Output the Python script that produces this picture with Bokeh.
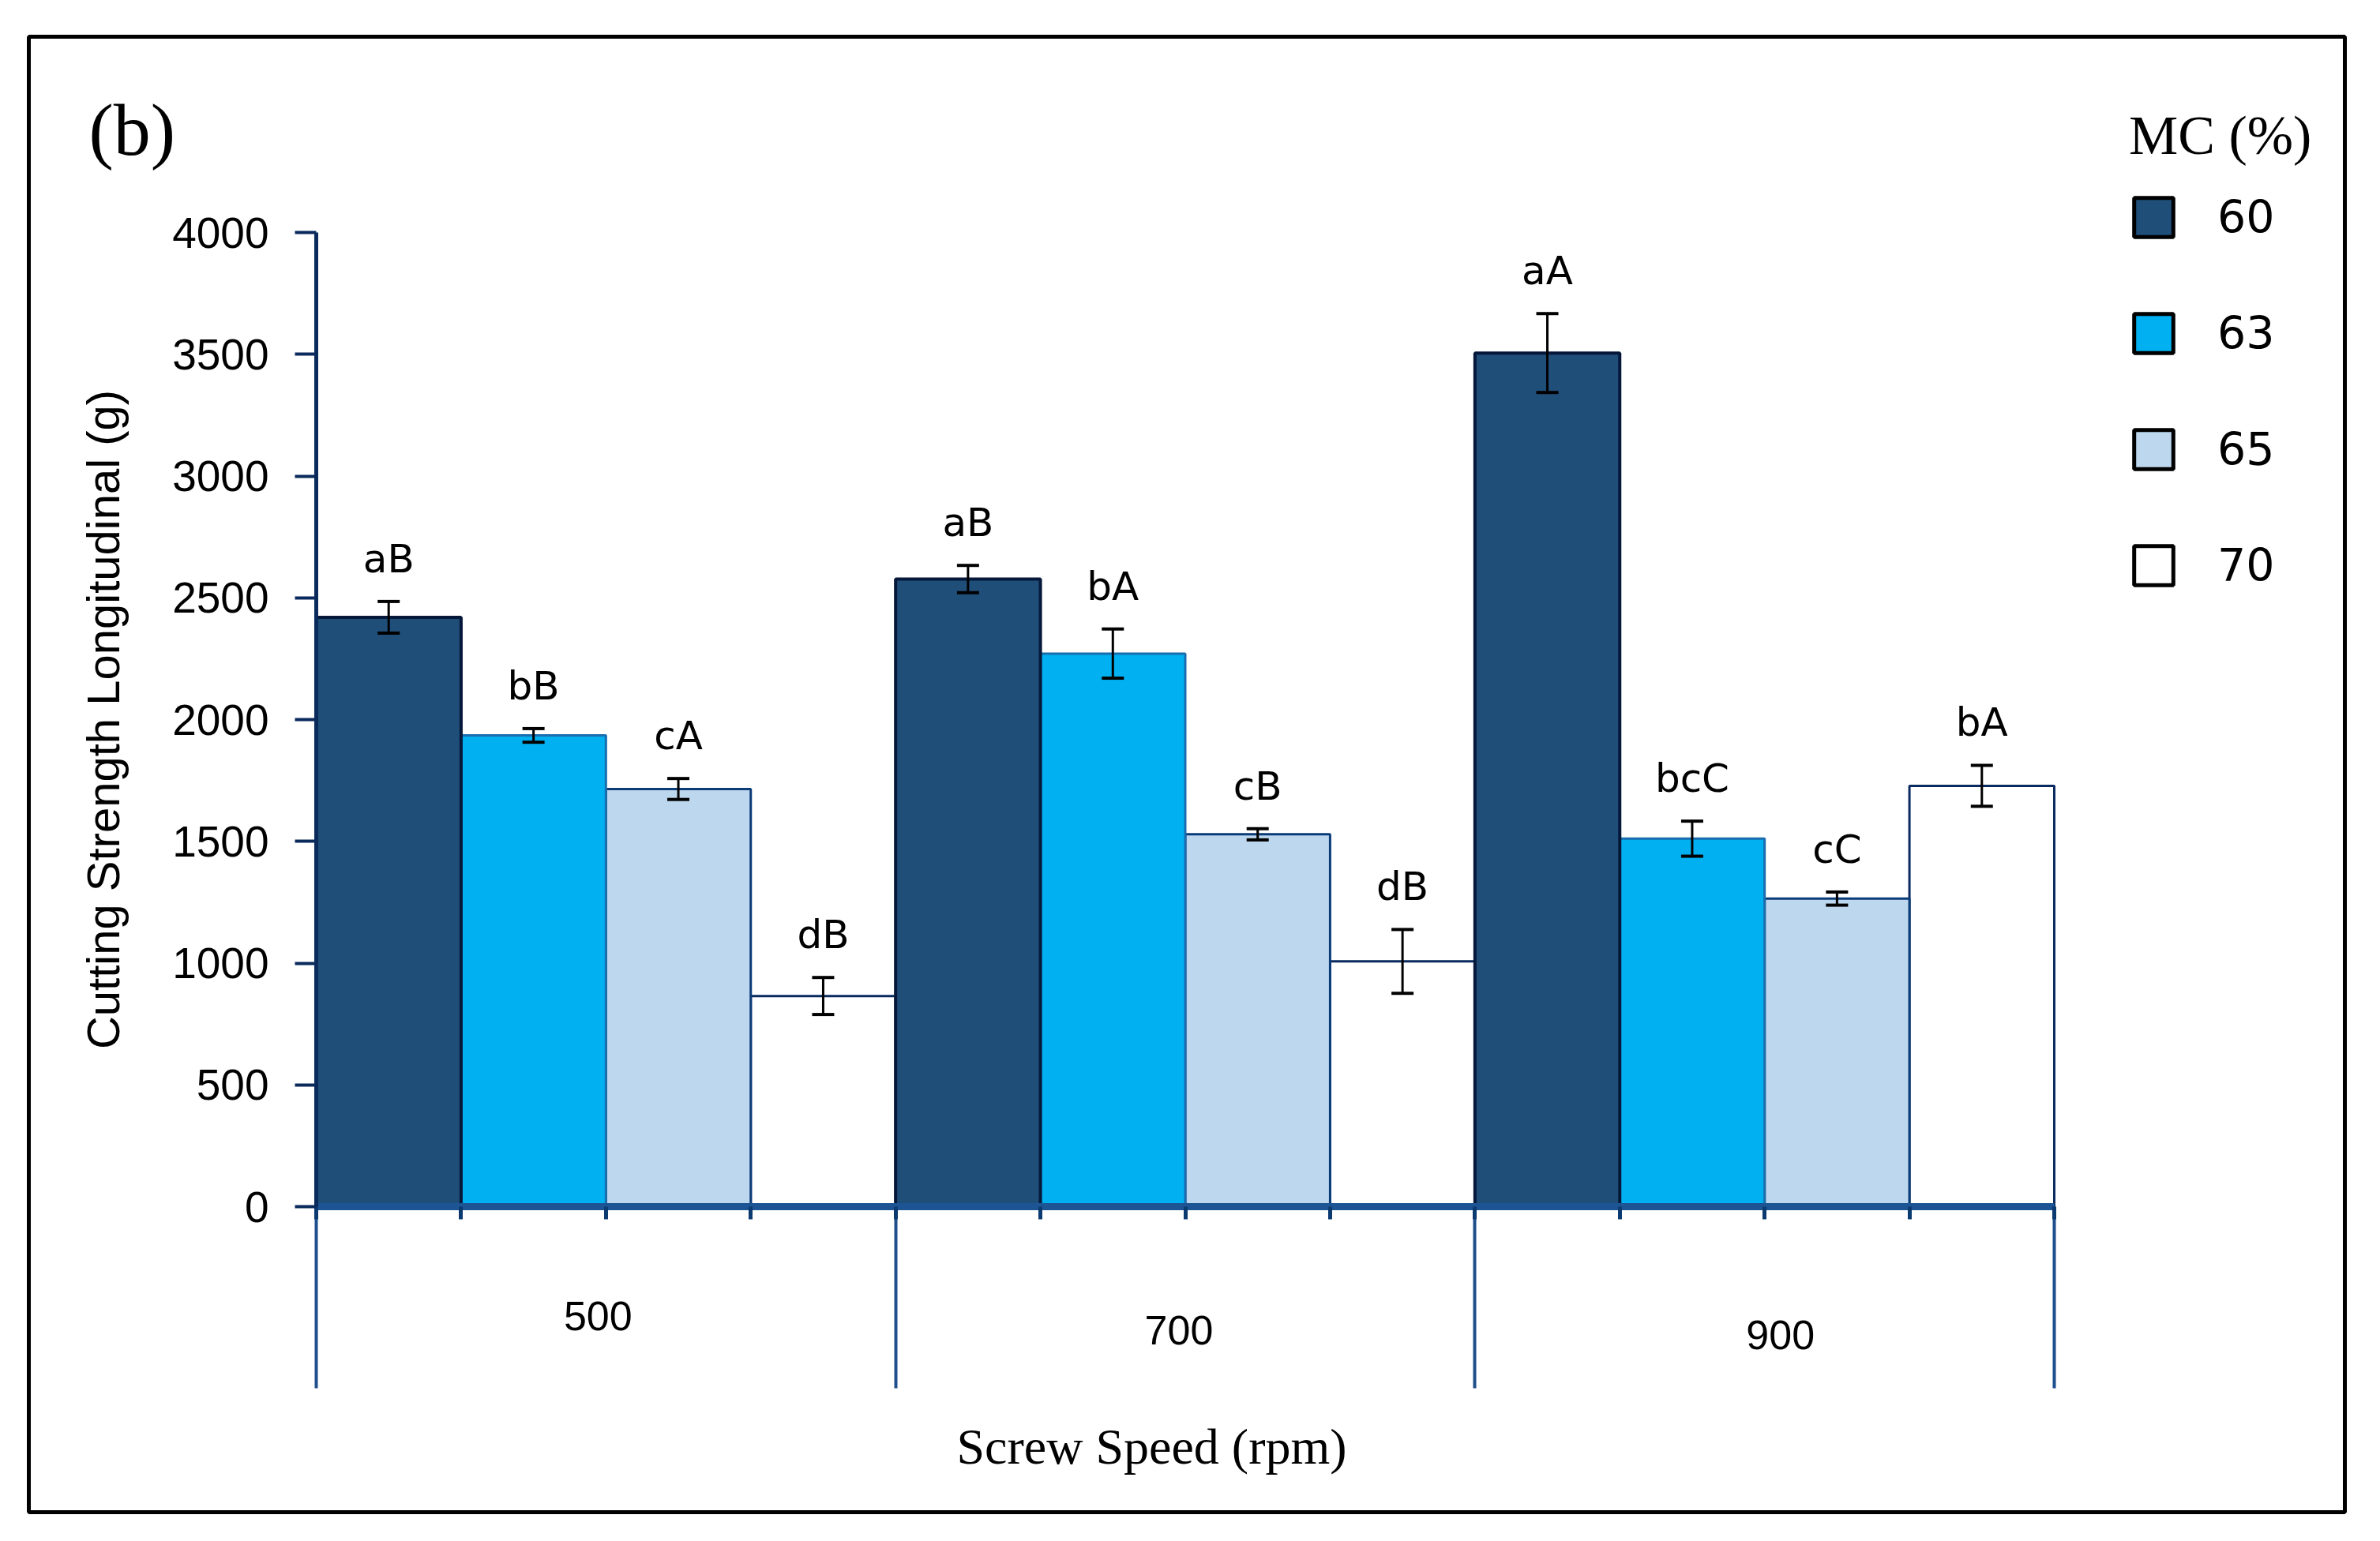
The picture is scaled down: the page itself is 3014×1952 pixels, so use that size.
import numpy as np
from bokeh.plotting import figure
from bokeh.models import (ColumnDataSource, Range1d, FixedTicker, Whisker, TeeHead,
                          Label, Legend, LegendItem, BoxAnnotation)
from bokeh.core.properties import value
from bokeh.embed import file_html
from bokeh.resources import INLINE

# ---------------- data ----------------
speeds = ["500", "700", "900"]
mc_levels = ["60", "63", "65", "70"]

v60 = [2420, 2577, 3505]
v63 = [1935, 2271, 1511]
v65 = [1715, 1529, 1265]
v70 = [865, 1007, 1728]

e60 = [65, 56, 162]
e63 = [28, 101, 72]
e65 = [43, 23, 27]
e70 = [76, 131, 84]

l60 = ["aB", "aB", "aA"]
l63 = ["bB", "bA", "bcC"]
l65 = ["cA", "cB", "cC"]
l70 = ["dB", "dB", "bA"]

yticks = [0, 500, 1000, 1500, 2000, 2500, 3000, 3500, 4000]

series_vals = [v60, v63, v65, v70]
series_errs = [e60, e63, e65, e70]
series_lets = [l60, l63, l65, l70]

# ---------------- style ----------------
fills = ["#1F4E79", "#00B0F0", "#BDD7EE", "#FFFFFF"]
lines = ["#06183A", "#1A6DAE", "#0B3C78", "#0A2A60"]
line_w = [4, 3, 3, 3]
NAVY = "#0A2A5C"
grp_dx = [-10, -8, 20]      # small offsets of the group labels (px)
grp_dy = [138, 156, 162]

W, H = 2998, 1936
# pixel geometry of the value area on the page
PL, PR, PT, PB = 400, 2601, 294, 1528
NB = len(speeds) * len(mc_levels)
YMAX = 4000


def xd(px):
    return (px - PL) / ((PR - PL) / NB)


def yd(py):
    return (PB - py) * (YMAX / (PB - PT))


p = figure(width=W, height=H, output_backend="svg", toolbar_location=None,
           x_range=Range1d(xd(0), xd(W)), y_range=Range1d(yd(H), yd(0)),
           min_border_left=0, min_border_right=0, min_border_top=0, min_border_bottom=0)
p.title.visible = False
p.outline_line_color = None
p.xgrid.visible = False
p.ygrid.visible = False
p.background_fill_color = "white"
p.border_fill_color = "white"

# ---------------- bars ----------------
ng = len(mc_levels)
order = [3, 2, 1, 0]
all_x, all_up, all_lo, all_txt = [], [], [], []
for s in range(ng):
    xs = [g * ng + s + 0.5 for g in range(len(speeds))]
    vals = series_vals[s]
    errs = series_errs[s]
    all_x += xs
    all_up += [v + e for v, e in zip(vals, errs)]
    all_lo += [v - e for v, e in zip(vals, errs)]
    all_txt += series_lets[s]

for s in order:
    xs = [g * ng + s + 0.5 for g in range(len(speeds))]
    src = ColumnDataSource(dict(x=xs, top=series_vals[s]))
    p.vbar(x="x", top="top", bottom=0, width=1.0, source=src,
           fill_color=fills[s], line_color=lines[s], line_width=line_w[s])

err_src = ColumnDataSource(dict(x=all_x, upper=all_up, lower=all_lo, txt=all_txt))
wh = Whisker(source=err_src, base="x", upper="upper", lower="lower",
             line_color="black", line_width=3, level="annotation",
             upper_head=TeeHead(size=28, line_color="black", line_width=4),
             lower_head=TeeHead(size=28, line_color="black", line_width=4))
p.add_layout(wh)

p.text(x="x", y="upper", text="txt", source=err_src, text_align="center",
       text_baseline="alphabetic", y_offset=-54,
       text_font=value("DejaVu Sans"), text_font_size="50px", text_color="black")

# group labels under the axis
grp_src = ColumnDataSource(dict(x=[g * ng + ng / 2 for g in range(len(speeds))],
                                y=[0] * len(speeds), t=speeds, dx=grp_dx, dy=grp_dy))
p.text(x="x", y="y", text="t", source=grp_src, text_align="center",
       text_baseline="middle", x_offset="dx", y_offset="dy",
       text_font=value("Liberation Sans"), text_font_size="52px", text_color="black")

# x-axis title (placed slightly left of centre, as in the original)
xt_src = ColumnDataSource(dict(x=[xd(1458)], y=[yd(1832)], t=["Screw Speed (rpm)"]))
p.text(x="x", y="y", text="t", source=xt_src, text_align="center",
       text_baseline="middle", text_font=value("Liberation Serif"),
       text_font_size="64px", text_color="black")

# ---------------- y axis ----------------
ya = p.yaxis[0]
ya.fixed_location = 0
ya.bounds = (0, YMAX)
ya.ticker = FixedTicker(ticks=yticks, minor_ticks=[])
ya.axis_line_color = NAVY
ya.axis_line_width = 5
ya.major_tick_out = 27
ya.major_tick_in = 0
ya.major_tick_line_color = NAVY
ya.major_tick_line_width = 4
ya.minor_tick_out = 0
ya.minor_tick_in = 0
ya.major_label_text_font = "Liberation Sans"
ya.major_label_text_font_size = "55px"
ya.major_label_text_color = "black"
ya.major_label_standoff = 33
ya.axis_label = "Cutting Strength Longitudinal (g)"
ya.axis_label_text_font = "Liberation Sans"
ya.axis_label_text_font_size = "58px"
ya.axis_label_text_font_style = "normal"
ya.axis_label_text_color = "black"
ya.axis_label_standoff = 52

# ---------------- x axis ----------------
xa = p.xaxis[0]
xa.fixed_location = 0
xa.bounds = (0, NB)
sep = [g * ng for g in range(len(speeds) + 1)]
xa.ticker = FixedTicker(ticks=sep, minor_ticks=list(range(NB + 1)))
xa.axis_line_color = "#1D5594"
xa.axis_line_width = 9
xa.major_tick_out = 230
xa.major_tick_in = 0
xa.major_tick_line_color = "#1F4E8C"
xa.major_tick_line_width = 4
xa.minor_tick_out = 16
xa.minor_tick_in = 0
xa.minor_tick_line_color = "#0A3A70"
xa.minor_tick_line_width = 5
xa.major_label_overrides = {t: "" for t in sep}
xa.major_label_text_font_size = "1px"
xa.major_label_standoff = 0

# panel tag
p.add_layout(Label(x=xd(112), y=yd(163), text="(b)", text_align="left",
                   text_baseline="alphabetic", text_font="Liberation Serif",
                   text_font_size="94px", text_color="black"))

# outer frame
p.add_layout(BoxAnnotation(left=xd(36), right=xd(2969), top=yd(46), bottom=yd(1915),
                           fill_alpha=0, line_color="black", line_alpha=1.0,
                           line_width=5, level="overlay"))

# ---------------- legend ----------------
items = []
for s, lab in enumerate(mc_levels):
    proxy = ColumnDataSource(dict(x=np.array([np.nan]), top=np.array([np.nan])))
    r = p.vbar(x="x", top="top", width=1.0, source=proxy, fill_color=fills[s],
               line_color="black", line_width=5)
    items.append(LegendItem(label=lab, renderers=[r]))

leg = Legend(items=items, location=(2696, H - 749), orientation="vertical",
             title="MC (%)", title_text_font="Liberation Serif",
             title_text_font_size="70px", title_text_font_style="normal",
             title_text_color="black", title_standoff=30,
             label_text_font="DejaVu Sans", label_text_font_size="57px",
             label_text_color="black",
             glyph_width=62, glyph_height=62, label_standoff=50,
             label_height=66, spacing=81, padding=0, margin=0,
             border_line_color=None, background_fill_alpha=0)
p.add_layout(leg)

open("out.html", "w").write(file_html(p, INLINE))
